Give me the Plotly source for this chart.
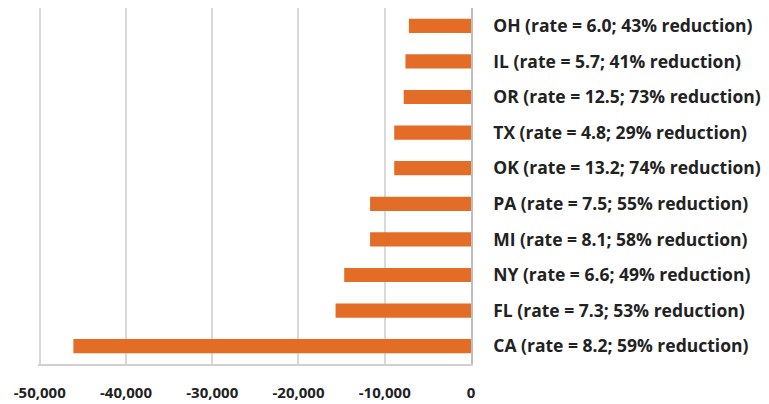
import plotly.graph_objects as go

states = ["OH", "IL", "OR", "TX", "OK", "PA", "MI", "NY", "FL", "CA"]
rates = ["6.0", "5.7", "12.5", "4.8", "13.2", "7.5", "8.1", "6.6", "7.3", "8.2"]
reductions = [43, 41, 73, 29, 74, 55, 58, 49, 53, 59]
values = [-7200, -7600, -7800, -8900, -8900, -11700, -11700, -14700, -15700, -46100]
x_ticks = [-50000, -40000, -30000, -20000, -10000, 0]
x_tick_text = ["-50,000", "-40,000", "-30,000", "-20,000", "-10,000", "0"]

labels = [f"{s} (rate = {r}; {p}% reduction)" for s, r, p in zip(states, rates, reductions)]

fig = go.Figure(go.Bar(
    x=values, y=labels, orientation="h",
    marker=dict(color="#E36C26", line=dict(width=0)),
))

fig.update_layout(
    width=769, height=404,
    margin=dict(l=38, r=298, t=8, b=40),
    paper_bgcolor="white", plot_bgcolor="white",
    bargap=0.6, showlegend=False,
    font=dict(family="Open Sans", color="#222222"),
)
fig.update_xaxes(
    range=[-50200, 0], tickvals=x_ticks, ticktext=x_tick_text,
    showgrid=True, gridcolor="#d9d9d9", gridwidth=1.5,
    showline=True, linecolor="#d0d0d0", linewidth=1.5,
    zeroline=False, ticks="", ticklabelstandoff=14, automargin=False,
    tickfont=dict(size=15, family="Open Sans", color="#222222", weight="bold"),
    fixedrange=True,
)
fig.update_yaxes(
    side="right", autorange="reversed", type="category",
    showline=True, linecolor="#bfbfbf", linewidth=1.5,
    showgrid=False, ticks="", ticklabelstandoff=17, automargin=False,
    tickfont=dict(size=17.5, family="Open Sans", color="#222222", weight="bold"),
    fixedrange=True,
)

fig.write_html("out.html")
